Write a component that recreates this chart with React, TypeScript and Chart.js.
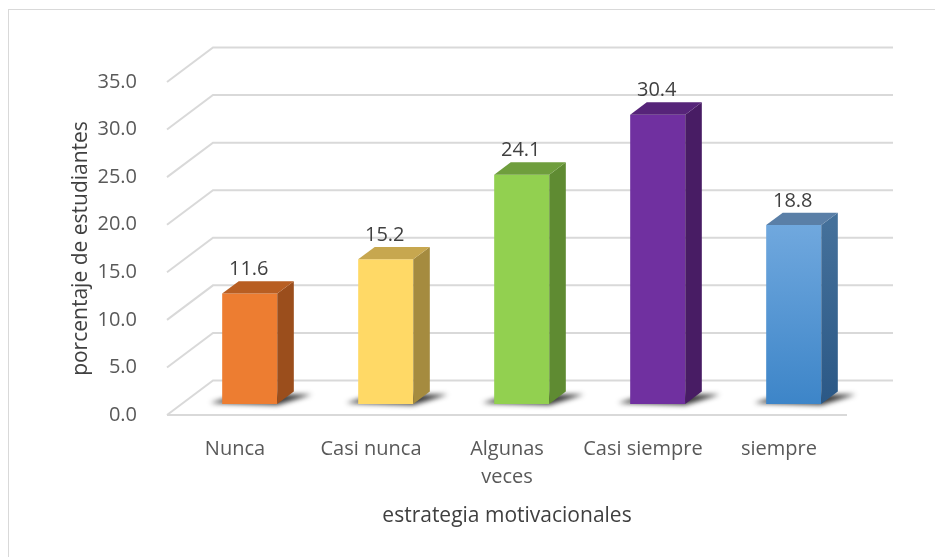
import React, { useEffect, useRef } from 'react';
import { Chart, registerables } from 'chart.js';

Chart.register(...registerables);

const categories: (string | string[])[] = ['Nunca', 'Casi nunca', ['Algunas', 'veces'], 'Casi siempre', 'siempre'];
const values = [11.6, 15.2, 24.1, 30.4, 18.8];
const yMin = 0;
const yMax = 35;
const yStep = 5;
const frontColors = ['#ED7D31', '#FFD966', '#92D050', '#7030A0', ''];
const topColors = ['#B85E22', '#C7A74F', '#6F9E3D', '#562479', '#5A7FA7'];
const sideColors = ['#9B4E1C', '#A58B3F', '#5F8B32', '#481C64', '#3A6590'];

const FONT = "'Open Sans', 'Noto Sans', sans-serif";
// floor depth (3D offset from front to back wall)
const DX = 46;
const DY = -34.5;
const F0 = 0.32; // bar front position in depth
const FD = 0.36; // bar depth

const plugin3d = {
  id: 'bars3d',
  beforeDraw(chart: any) {
    const { ctx } = chart;
    ctx.save();
    ctx.fillStyle = '#ffffff';
    ctx.fillRect(0, 0, chart.width, chart.height);
    ctx.strokeStyle = '#D9D9D9';
    ctx.lineWidth = 1;
    ctx.strokeRect(8.5, 9.5, 960, 580);
    ctx.restore();
  },
  beforeDatasetsDraw(chart: any) {
    const { ctx, chartArea, scales } = chart;
    const { left, right } = chartArea;
    const y = scales.y;
    ctx.save();
    ctx.strokeStyle = '#D9D9D9';
    ctx.lineWidth = 2;
    y.ticks.forEach((t: any) => {
      const yf = y.getPixelForValue(t.value);
      ctx.beginPath();
      ctx.moveTo(left, yf);
      ctx.lineTo(left + DX, yf + DY);
      ctx.lineTo(right + DX, yf + DY);
      ctx.stroke();
      if (t.value === 0) {
        ctx.beginPath();
        ctx.moveTo(left, yf);
        ctx.lineTo(right, yf);
        ctx.stroke();
      }
    });
    ctx.restore();

    const meta = chart.getDatasetMeta(0);
    const ox = F0 * DX, oy = F0 * DY, dx = FD * DX, dy = FD * DY;
    ctx.save();
    ctx.filter = 'blur(2.5px)';
    ctx.fillStyle = 'rgba(20,20,20,0.85)';
    meta.data.forEach((bar: any) => {
      const { x, base, width } = bar.getProps(['x', 'base', 'width'], true);
      const xl = x - width / 2 + ox, xr = x + width / 2 + ox, b = base + oy;
      ctx.beginPath();
      ctx.moveTo(xl - 12, b - 1);
      ctx.lineTo(xr, b + 1);
      ctx.lineTo(xr + dx + 18, b + dy + 3);
      ctx.lineTo(xl + dx, b + dy + 3);
      ctx.closePath();
      ctx.fill();
    });
    ctx.restore();

    ctx.save();
    ctx.translate(ox, oy);
  },
  afterDatasetsDraw(chart: any) {
    const { ctx } = chart;
    ctx.restore();
    const meta = chart.getDatasetMeta(0);
    const ox = F0 * DX, oy = F0 * DY, dx = FD * DX, dy = FD * DY;
    meta.data.forEach((bar: any, i: number) => {
      const { x, y, base, width } = bar.getProps(['x', 'y', 'base', 'width'], true);
      const xl = x - width / 2 + ox, xr = x + width / 2 + ox;
      const yt = y + oy, yb = base + oy;
      ctx.save();
      // side face
      let sideFill: any = sideColors[i];
      if (!frontColors[i]) {
        const g = ctx.createLinearGradient(0, yt, 0, yb);
        g.addColorStop(0, '#44709A');
        g.addColorStop(1, '#2B5886');
        sideFill = g;
      }
      ctx.fillStyle = sideFill;
      ctx.beginPath();
      ctx.moveTo(xr, yt);
      ctx.lineTo(xr + dx, yt + dy);
      ctx.lineTo(xr + dx, yb + dy);
      ctx.lineTo(xr, yb);
      ctx.closePath();
      ctx.fill();
      // top face
      ctx.fillStyle = topColors[i];
      ctx.beginPath();
      ctx.moveTo(xl, yt);
      ctx.lineTo(xl + dx, yt + dy);
      ctx.lineTo(xr + dx, yt + dy);
      ctx.lineTo(xr, yt);
      ctx.closePath();
      ctx.fill();
      // label
      ctx.fillStyle = '#404040';
      ctx.font = `20px ${FONT}`;
      ctx.textAlign = 'center';
      ctx.textBaseline = 'middle';
      ctx.fillText(values[i].toFixed(1), x + ox - 1, yt - 24);
      ctx.restore();
    });
  },
};

export default function App() {
  const ref = useRef<HTMLCanvasElement | null>(null);
  useEffect(() => {
    if (!ref.current) return;
    const chart = new Chart(ref.current, {
      type: 'bar',
      data: {
        labels: categories as any,
        datasets: [
          {
            data: values,
            backgroundColor: (c: any) => {
              const i = c.dataIndex;
              if (frontColors[i]) return frontColors[i];
              const ch = c.chart;
              const ys = ch.scales && ch.scales.y;
              if (!ys) return '#5B9BD5';
              const g = ch.ctx.createLinearGradient(0, ys.getPixelForValue(values[i]), 0, ys.getPixelForValue(0));
              g.addColorStop(0, '#70A8DE');
              g.addColorStop(1, '#3D85C8');
              return g;
            },
            borderWidth: 0,
            barPercentage: 0.405,
            categoryPercentage: 1,
            clip: false as any,
          },
        ],
      },
      options: {
        animation: false,
        responsive: false,
        layout: { padding: { left: 0, top: 82, right: 88, bottom: 0 } },
        plugins: {
          legend: { display: false },
          tooltip: { enabled: false },
        },
        scales: {
          x: {
            type: 'category',
            grid: { display: false },
            border: { display: false },
            ticks: {
              color: '#595959',
              font: { family: FONT, size: 20, lineHeight: 1.4 },
              padding: 12,
              maxRotation: 0,
              autoSkip: false,
            },
            title: {
              display: true,
              text: 'estrategia motivacionales',
              color: '#404040',
              font: { family: FONT, size: 21, lineHeight: 1.2 },
              padding: { top: 0, bottom: 28 },
            },
            afterFit: (s: any) => {
              s.height = 142;
            },
          },
          y: {
            min: yMin,
            max: yMax,
            grid: { display: false },
            border: { display: false },
            ticks: {
              stepSize: yStep,
              color: '#595959',
              font: { family: FONT, size: 20 },
              padding: 22,
              callback: (v: any) => Number(v).toFixed(1),
            },
            title: {
              display: true,
              text: 'porcentaje de estudiantes',
              color: '#404040',
              font: { family: FONT, size: 21, lineHeight: 1.2 },
              padding: { top: 68, bottom: 0 },
            },
            afterFit: (s: any) => {
              s.width = 167;
            },
          },
        },
      },
      plugins: [plugin3d],
    });
    return () => chart.destroy();
  }, []);
  return (
    <div style={{ position: 'fixed', left: 0, top: 0, width: 935, height: 557, background: '#fff' }}>
      <canvas ref={ref} width={935} height={557} style={{ display: 'block', width: 935, height: 557 }} />
    </div>
  );
}
